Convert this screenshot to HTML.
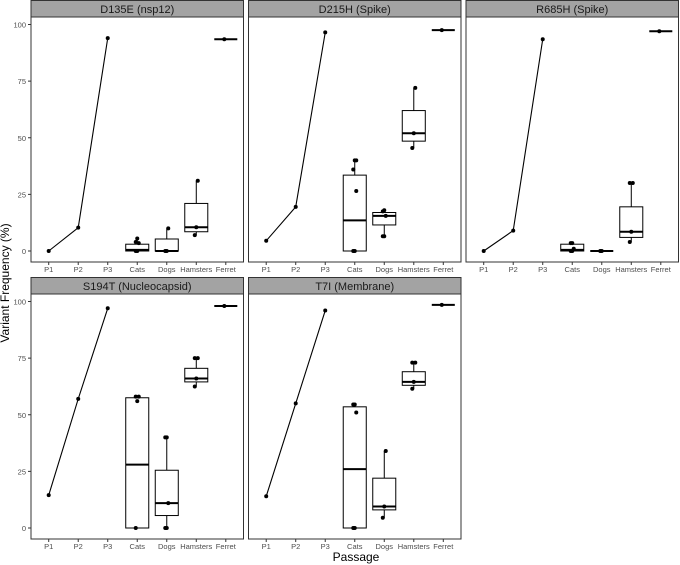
<!DOCTYPE html>
<html><head><meta charset="utf-8"><style>
html,body{margin:0;padding:0;background:#fff;}
svg{display:block;font-family:"Liberation Sans",Arial,sans-serif;}
</style></head><body>
<svg id="c" width="680" height="565" viewBox="0 0 680 565">
<text x="9" y="283" transform="rotate(-90 9 283)" text-anchor="middle" font-size="12" fill="#000">Variant Frequency (%)</text>
<text x="356" y="561" text-anchor="middle" font-size="12" fill="#000">Passage</text>
</svg>
<script>
const categories = ["P1","P2","P3","Cats","Dogs","Hamsters","Ferret"];
const yTicks = [0,25,50,75,100];
const panelTitles = ["D135E (nsp12)","D215H (Spike)","R685H (Spike)","S194T (Nucleocapsid)","T7I (Membrane)"];
const lineValues = [[0,10.3,94],[4.5,19.5,96.5],[0,9,93.5],[14.5,57,97],[14,55,96]];
// box stats per panel: [min, q1, median, q3, max] for Cats, Dogs, Hamsters, Ferret
const catsBox = [[0,0,0.5,3,5.5],[0,0,13.5,33.5,40],[0,0,0.5,3,3.5],[0,0,28,57.5,58],[0,0,26,53.5,54.5]];
const dogsBox = [[0,0,0,5.3,10],[6.5,11.5,15.5,17,18],[0,0,0,0,0],[0,5.5,11,25.5,40],[4.5,8,9.5,22,34]];
const hamstersBox = [[7,8.5,10.5,21,31],[45.5,48.5,52,62,72],[4,6,8.5,19.5,30],[62.5,64.5,66,70.5,75],[61.5,63,64.5,69,73]];
const ferretBox = [[93.5,93.5,93.5,93.5,93.5],[97.5,97.5,97.5,97.5,97.5],[97,97,97,97,97],[98,98,98,98,98],[98.5,98.5,98.5,98.5,98.5]];
const catsPts = [[0,0,3.5,4,5.5],[0,0,26.5,36,40,40],[0,0,1,3.5,3.5],[0,56,58,58],[0,0,51,54.5,54.5]];
const dogsPts = [[0,0,10],[6.5,6.5,15.5,17.5,18],[0,0],[0,0,11,40,40],[4.5,9.5,34]];
const hamstersPts = [[7,10.5,31],[45.5,52,72],[4,8.5,30,30],[62.5,66,75,75],[61.5,64.5,73,73]];
const ferretPts = [[93.5],[97.5],[97],[98],[98.5]];

const NS="http://www.w3.org/2000/svg";
const svg=document.getElementById('c');
function mk(tag,attrs,parent){const e=document.createElementNS(NS,tag);for(const k in attrs)e.setAttribute(k,attrs[k]);(parent||svg).appendChild(e);return e;}
const lefts=[31,248.5,466], W=212.5;
const tops=[0,277];
for(let p=0;p<5;p++){
  const col=p%3;
  const L=lefts[col], T=tops[Math.floor(p/3)];
  const plotTop=T+17, plotBot=T+262;
  const y0=T+251, y100=T+24.5;
  const ys=v=>y0-(y0-y100)*v/100;
  const unit=W/7.2;
  const xs=i=>L+unit*(0.6+i);
  const g=mk('g',{});
  
  
  const strip=mk('rect',{x:L,y:T+0.5,width:W,height:16.5,fill:'#a3a3a3',stroke:'#333','stroke-width':1},g);
  
  
  const st=mk('text',{x:L+W/2,y:T+13,'text-anchor':'middle','font-size':11,fill:'#1a1a1a'},g);
  st.textContent=panelTitles[p];
  
  
  mk('rect',{x:L,y:plotTop,width:W,height:plotBot-plotTop,fill:'#fff',stroke:'#333','stroke-width':1},g);
  if(col===0){
    yTicks.forEach(t=>{
      mk('line',{x1:L-3,x2:L,y1:ys(t),y2:ys(t),stroke:'#333'},g);
      const tx=mk('text',{x:L-5,y:ys(t)+3,'text-anchor':'end','font-size':7.5,fill:'#4d4d4d'},g);
      tx.textContent=t;
      
      
    });
  }
  categories.forEach((c,i)=>{
    mk('line',{x1:xs(i),x2:xs(i),y1:plotBot,y2:plotBot+3,stroke:'#333'},g);
    const tx=mk('text',{x:xs(i),y:plotBot+10,'text-anchor':'middle','font-size':7.5,fill:'#4d4d4d'},g);
    tx.textContent=c;
    
    
  });
  const lv=lineValues[p];
  const pl=mk('polyline',{points:lv.map((v,i)=>xs(i)+','+ys(v)).join(' '),fill:'none',stroke:'#000','stroke-width':1.1},g);
  
  
  lv.forEach((v,i)=>{const c=mk('circle',{cx:xs(i),cy:ys(v),r:2,fill:'#000'},g);
    
    });
  const boxes=[catsBox[p],dogsBox[p],hamstersBox[p],ferretBox[p]];
  const pts=[catsPts[p],dogsPts[p],hamstersPts[p],ferretPts[p]];
  const names=['cats','dogs','hamsters','ferret'];
  boxes.forEach((b,k)=>{
    const cx=xs(3+k), hw=unit*0.39;
    const bg=mk('g',{},g);
    
    
    mk('line',{x1:cx,x2:cx,y1:ys(b[0]),y2:ys(b[1]),stroke:'#000'},bg);
    mk('line',{x1:cx,x2:cx,y1:ys(b[3]),y2:ys(b[4]),stroke:'#000'},bg);
    mk('rect',{x:cx-hw,y:ys(b[3]),width:2*hw,height:Math.max(0,ys(b[1])-ys(b[3])),fill:'#fff',stroke:'#000','stroke-width':1},bg);
    mk('line',{x1:cx-hw,x2:cx+hw,y1:ys(b[2]),y2:ys(b[2]),stroke:'#000','stroke-width':2},bg);
    pts[k].forEach((v,j)=>{
      const off=((j%3)-1)*1.5;
      const c=mk('circle',{cx:cx+off,cy:ys(v),r:2,fill:'#000'},bg);
      
      
    });
  });
}
</script>
</body></html>
